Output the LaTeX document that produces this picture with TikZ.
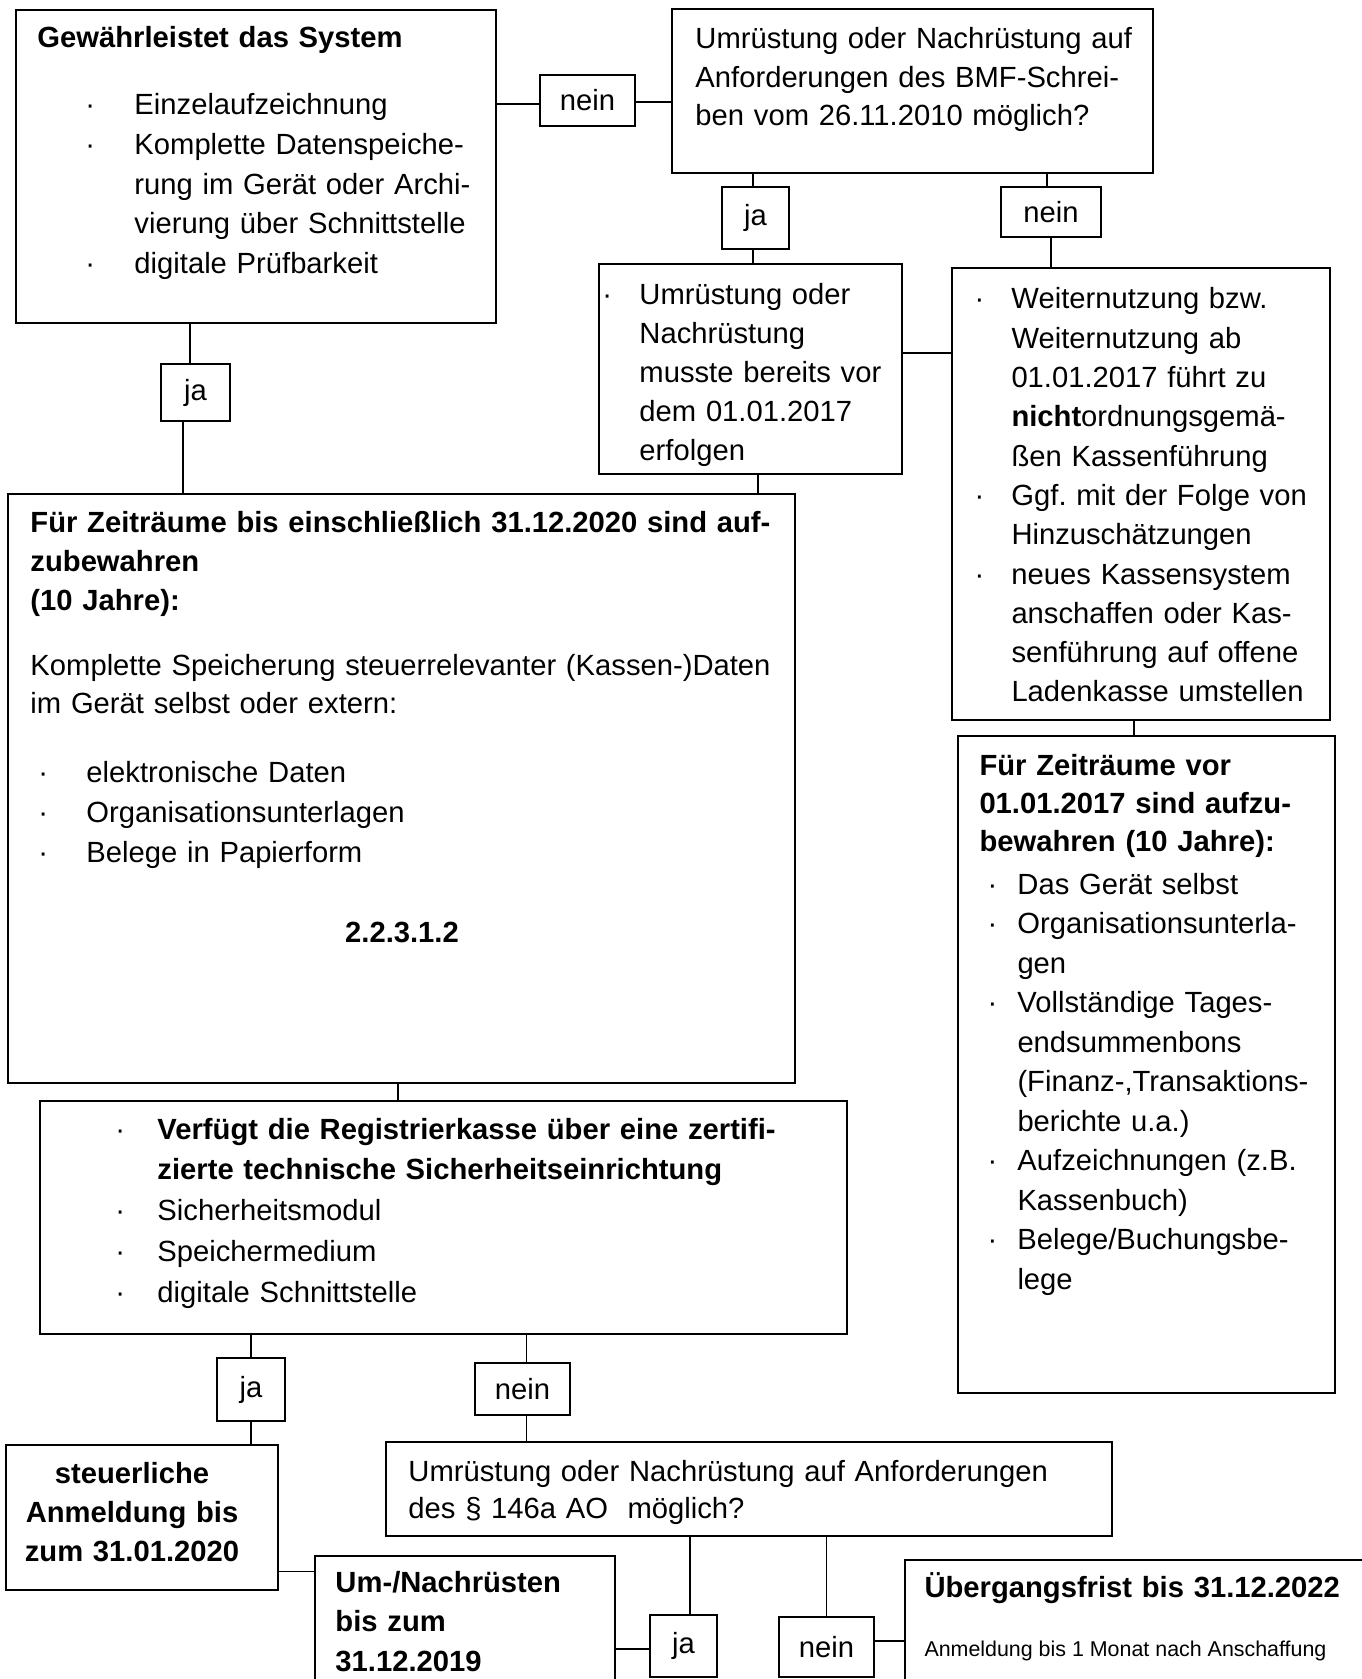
\documentclass[tikz,border=0pt]{standalone}
\usepackage{fontspec}
\setmainfont{Liberation Sans}
\usetikzlibrary{fit,calc}
\newlength{\ux}\setlength{\ux}{0.411pt}
\newcommand{\bul}[1]{\makebox[#1\ux][l]{·}}
\newcommand{\ind}[1]{\hspace*{#1\ux}}
\frenchspacing
\tikzset{
  box/.style={draw, line width=0.7pt, inner sep=0pt},
  lbl/.style={draw, line width=0.5pt, inner sep=0pt, font=\fontsize{12}{14}\selectfont},
  txt/.style={anchor=base west, inner sep=0pt, align=left, text width=800\ux, font=\fontsize{12}{#1}\selectfont},
  txt/.default=16pt,
  conn/.style={line width=0.5pt}
}

\begin{document}
\begin{tikzpicture}[x=\ux, y=-\ux]
\useasboundingbox (0,0) rectangle (1362,1679);
\clip (0,0) rectangle (1362,1679);

% boxes
\node[box, fit={(16,10) (496,323)}] (gew) {};
\node[box, fit={(672,9) (1153,173)}] (bmf) {};
\node[box, fit={(599,264) (902,474)}] (vor) {};
\node[box, fit={(952,268) (1330,720)}] (weiter) {};
\node[box, fit={(958,736) (1335,1393)}] (alt) {};
\node[box, fit={(8,494) (795,1083)}] (aufb) {};
\node[box, fit={(40,1101) (847,1334)}] (tse) {};
\node[box, fit={(6,1445) (278,1590)}] (anmeld) {};
\node[box, fit={(386,1442) (1112,1536)}] (ao) {};
\node[box, fit={(315,1556) (615,1720)}] (nachr) {};
\node[box, fit={(905,1560) (1420,1720)}] (frist) {};

% ja / nein
\node[lbl, minimum width=95\ux, minimum height=51\ux] (neinA) at (587.5,100.5) {nein};
\node[lbl, minimum width=69\ux, minimum height=57\ux] (jaA) at (195.5,392.5) {ja};
\node[lbl, minimum width=67\ux, minimum height=62\ux] (jaB) at (755.5,218) {ja};
\node[lbl, minimum width=100\ux, minimum height=50\ux] (neinB) at (1051,212) {nein};
\node[lbl, minimum width=68\ux, minimum height=63\ux] (jaF) at (251,1389.5) {ja};
\node[lbl, minimum width=95\ux, minimum height=52\ux] (neinF) at (522.5,1389) {nein};
\node[lbl, minimum width=67\ux, minimum height=62\ux] (jaH) at (683.5,1646) {ja};
\node[lbl, minimum width=95\ux, minimum height=60\ux] (neinH) at (826.5,1647) {nein};

% texts
\node[txt] (gew-h) at (37,48) {\bfseries Gewährleistet das System};
\node[txt=16.3pt] (gew-t) at (85,115) {\bul{49}Einzelaufzeichnung\\\bul{49}Komplette Datenspeiche-\\\ind{49}rung im Gerät oder Archi-\\\ind{49}vierung über Schnittstelle\\\bul{49}digitale Prüfbarkeit};
\node[txt=15.8pt] (bmf-t) at (695,49) {Umrüstung oder Nachrüstung auf\\Anforderungen des BMF-Schrei-\\ben vom 26.11.2010 möglich?};
\node[txt=15.95pt] (vor-t) at (602,305) {\bul{37}Umrüstung oder\\\ind{37}Nachrüstung\\\ind{37}musste bereits vor\\\ind{37}dem 01.01.2017\\\ind{37}erfolgen};
\node[txt=16.15pt] (weiter-t) at (974,309) {\bul{37}Weiternutzung bzw.\\\ind{37}Weiternutzung ab\\\ind{37}01.01.2017 führt zu\\\ind{37}\textbf{nicht}ordnungsgemä-\\\ind{37}ßen Kassenführung\\\bul{37}Ggf. mit der Folge von\\\ind{37}Hinzuschätzungen\\\bul{37}neues Kassensystem\\\ind{37}anschaffen oder Kas-\\\ind{37}senführung auf offene\\\ind{37}Ladenkasse umstellen};
\node[txt=15.8pt] (alt-h) at (979,775) {\bfseries Für Zeiträume vor\\01.01.2017 sind aufzu-\\bewahren (10 Jahre):};
\node[txt=16.25pt] (alt-t) at (987,894) {\bul{30}Das Gerät selbst\\\bul{30}Organisationsunterla-\\\ind{30}gen\\\bul{30}Vollständige Tages-\\\ind{30}endsummenbons\\\ind{30}(Finanz-,Transaktions-\\\ind{30}berichte u.a.)\\\bul{30}Aufzeichnungen (z.B.\\\ind{30}Kassenbuch)\\\bul{30}Belege/Buchungsbe-\\\ind{30}lege};
\node[txt=16.2pt] (aufb-h) at (30,532) {\bfseries Für Zeiträume bis einschließlich 31.12.2020 sind auf-\\zubewahren\\(10 Jahre):};
\node[txt=16pt] (aufb-t) at (30,675) {Komplette Speicherung steuerrelevanter (Kassen-)Daten\\im Gerät selbst oder extern:};
\node[txt=16.6pt] (aufb-l) at (38,782) {\bul{48}elektronische Daten\\\bul{48}Organisationsunterlagen\\\bul{48}Belege in Papierform};
\node[anchor=base, inner sep=0pt, font=\fontsize{12}{16}\selectfont\bfseries] (aufb-n) at (402,942) {2.2.3.1.2};
\node[txt=16.75pt] (tse-t) at (115,1139) {\bul{42}\textbf{Verfügt die Registrierkasse über eine zertifi-}\\\ind{42}\textbf{zierte technische Sicherheitseinrichtung}\\\bul{42}Sicherheitsmodul\\\bul{42}Speichermedium\\\bul{42}digitale Schnittstelle};
\node[anchor=base, inner sep=0pt, align=center, text width=260\ux, font=\fontsize{12}{16.2}\selectfont\bfseries] (anmeld-t) at (132,1483) {steuerliche\\Anmeldung bis\\zum 31.01.2020};
\node[txt=15.2pt] (ao-t) at (408,1481) {Umrüstung oder Nachrüstung auf Anforderungen\\des § 146a AO\ \ möglich?};
\node[txt=16.3pt] (nachr-t) at (335,1592) {\bfseries Um-/Nachrüsten\\bis zum\\31.12.2019};
\node[txt] (frist-h) at (924,1597) {\bfseries Übergangsfrist bis 31.12.2022};
\node[anchor=base west, inner sep=0pt, font=\fontsize{8.8}{10}\selectfont] (frist-t) at (924,1656) {Anmeldung bis 1 Monat nach Anschaffung};

% connectors
\draw[conn] ([yshift=-3.5\ux]neinA.west) -- ([yshift=-3.5\ux]neinA.west -| gew.east);
\draw[conn] ([yshift=-1.5\ux]neinA.east) -- ([yshift=-1.5\ux]neinA.east -| bmf.west);
\draw[conn] ([xshift=-2.5\ux]jaB.north) -- ([xshift=-2.5\ux]jaB.north |- bmf.south);
\draw[conn] ([xshift=-2.5\ux]jaB.south) -- ([xshift=-2.5\ux]jaB.south |- vor.north);
\draw[conn] ([xshift=-4\ux]neinB.north) -- ([xshift=-4\ux]neinB.north |- bmf.south);
\draw[conn] (neinB.south) -- (neinB.south |- weiter.north);
\draw[conn] ([yshift=16\ux]vor.east) -- ([yshift=16\ux]vor.east -| weiter.west);
\draw[conn] ([xshift=-5.5\ux]jaA.north) -- ([xshift=-5.5\ux]jaA.north |- gew.south);
\draw[conn] ([xshift=-12.5\ux]jaA.south) -- ([xshift=-12.5\ux]jaA.south |- aufb.north);
\draw[conn] ([xshift=7.5\ux]vor.south) -- ([xshift=7.5\ux]vor.south |- aufb.north);
\draw[conn] ([xshift=-7\ux]weiter.south) -- ([xshift=-7\ux]weiter.south |- alt.north);
\draw[conn] ([xshift=-3.5\ux]aufb.south) -- ([xshift=-3.5\ux]aufb.south |- tse.north);
\draw[conn] (jaF.north) -- (jaF.north |- tse.south);
\draw[conn] (jaF.south) -- (jaF.south |- anmeld.north);
\draw[conn] ([xshift=4\ux]neinF.north) -- ([xshift=4\ux]neinF.north |- tse.south);
\draw[conn] ([xshift=4\ux]neinF.south) -- ([xshift=4\ux]neinF.south |- ao.north);
\draw[conn] ([yshift=19\ux]anmeld.south east) -- ([yshift=19\ux]anmeld.south east -| nachr.west);
\draw[conn] ([xshift=6.5\ux]jaH.north) -- ([xshift=6.5\ux]jaH.north |- ao.south);
\draw[conn] (neinH.north) -- (neinH.north |- ao.south);
\draw[conn] ([yshift=-3\ux]jaH.west) -- ([yshift=-3\ux]jaH.west -| nachr.east);
\draw[conn] ([yshift=6\ux]neinH.east) -- ([yshift=6\ux]neinH.east -| frist.west);
\end{tikzpicture}
\end{document}
